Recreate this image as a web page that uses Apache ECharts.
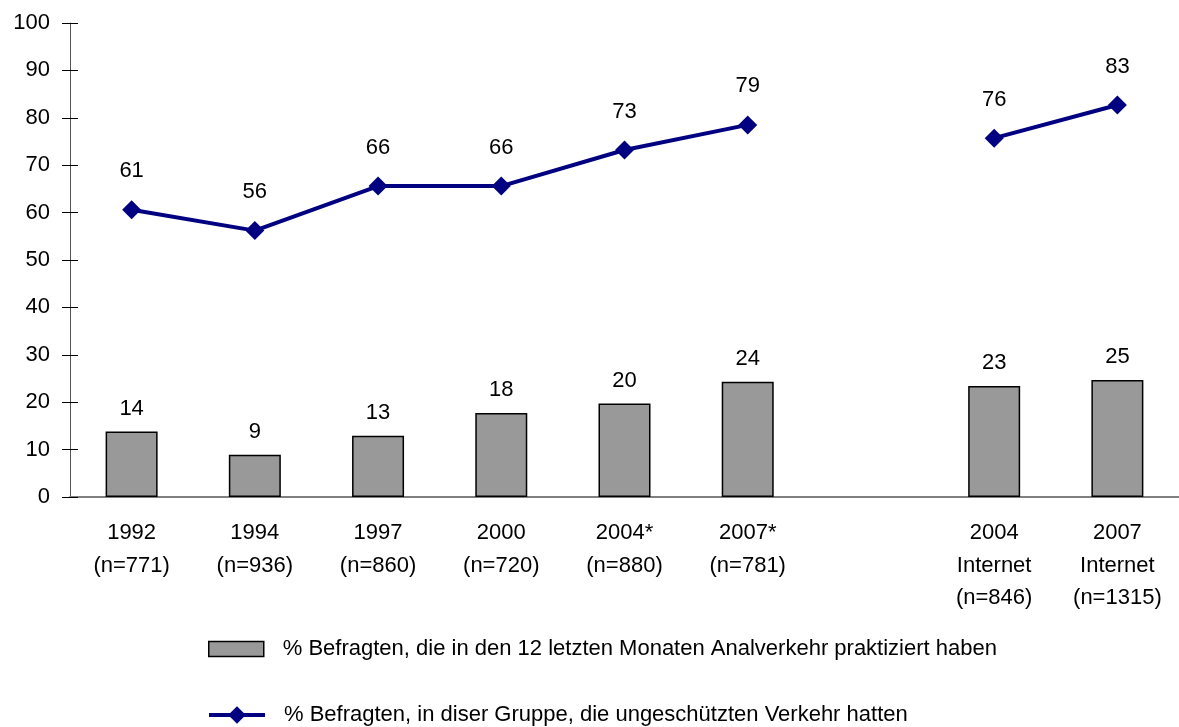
<!DOCTYPE html>
<html>
<head>
<meta charset="utf-8">
<script src="https://cdn.jsdelivr.net/npm/echarts@6/dist/echarts.min.js"></script>
<style>
  html, body { margin: 0; padding: 0; background: #fff; }
  #chart { width: 1179px; height: 727px; }
</style>
</head>
<body>
<div id="chart"></div>
<script>
// Kategorien (leere Kategorie = Lücke zwischen den Gruppen)
const categories = [
  "1992\n(n=771)", "1994\n(n=936)", "1997\n(n=860)", "2000\n(n=720)",
  "2004*\n(n=880)", "2007*\n(n=781)", "",
  "2004\nInternet\n(n=846)", "2007\nInternet\n(n=1315)"
];
// Balken: Analverkehr in den letzten 12 Monaten
const barValues = [13.8, 8.9, 12.9, 17.7, 19.7, 24.3, null, 23.4, 24.7];
const barLabels = ["14", "9", "13", "18", "20", "24", "", "23", "25"];
// Linie: ungeschützter Verkehr
const lineValues = [60.6, 56.2, 65.6, 65.6, 73.2, 78.5, null, 75.7, 82.7];
const lineLabels = ["61", "56", "66", "66", "73", "79", "", "76", "83"];

const barName = "% Befragten, die in den 12 letzten Monaten Analverkehr praktiziert haben";
const lineName = "% Befragten, in diser Gruppe, die ungeschützten Verkehr hatten";

const font = "Liberation Sans, Arial, sans-serif";
const fs = 22;

const chart = echarts.init(document.getElementById("chart"));
chart.setOption({
  animation: false,
  textStyle: { fontFamily: font },
  grid: { left: 70, right: -9, top: 23, bottom: 230 },
  legend: [
    {
      data: [{ name: barName, icon: "rect" }],
      left: 203, top: 633,
      itemWidth: 55, itemHeight: 15,
      itemStyle: { color: "#999999", borderColor: "#000", borderWidth: 1.5 },
      textStyle: { fontSize: fs, color: "#000", fontFamily: font, padding: [0, 0, 0, 14] }
    },
    {
      data: [lineName],
      left: 202, top: 699,
      itemWidth: 56, itemHeight: 22,
      lineStyle: { width: 4, color: "#000080" },
      textStyle: { fontSize: fs, color: "#000", fontFamily: font, padding: [0, 0, 0, 14] }
    }
  ],
  xAxis: {
    type: "category",
    data: categories,
    axisLine: { lineStyle: { color: "#808080", width: 2 } },
    axisTick: { show: false },
    axisLabel: {
      color: "#000", fontSize: fs, lineHeight: 32.5,
      margin: 20, verticalAlign: "top", interval: 0
    }
  },
  yAxis: [
    {
      type: "value", min: 0, max: 100, interval: 10,
      splitLine: { show: false },
      axisLine: { show: true, lineStyle: { color: "#555", width: 1 } },
      axisTick: { show: true, length: 8, lineStyle: { color: "#000" } },
      axisLabel: { color: "#000", fontSize: fs, margin: 20 }
    },
    {
      type: "value", min: 0, max: 100, interval: 10, position: "left",
      splitLine: { show: false },
      axisLine: { show: false },
      axisTick: { show: true, inside: true, length: 8, lineStyle: { color: "#000" } },
      axisLabel: { show: false }
    }
  ],
  series: [
    {
      name: barName,
      type: "bar",
      data: barValues,
      barWidth: 52,
      itemStyle: { color: "#999999", borderColor: "#000", borderWidth: 1.5 },
      label: {
        show: true, position: "top", distance: 12,
        color: "#000", fontSize: fs,
        formatter: p => barLabels[p.dataIndex]
      },
      z: 2
    },
    {
      name: lineName,
      type: "line",
      data: lineValues,
      connectNulls: false,
      symbol: "diamond",
      symbolSize: 19,
      lineStyle: { color: "#000080", width: 4 },
      itemStyle: { color: "#000080" },
      label: {
        show: true, position: "top", distance: 18,
        color: "#000", fontSize: fs,
        formatter: p => lineLabels[p.dataIndex]
      },
      z: 3
    }
  ]
});
</script>
</body>
</html>
